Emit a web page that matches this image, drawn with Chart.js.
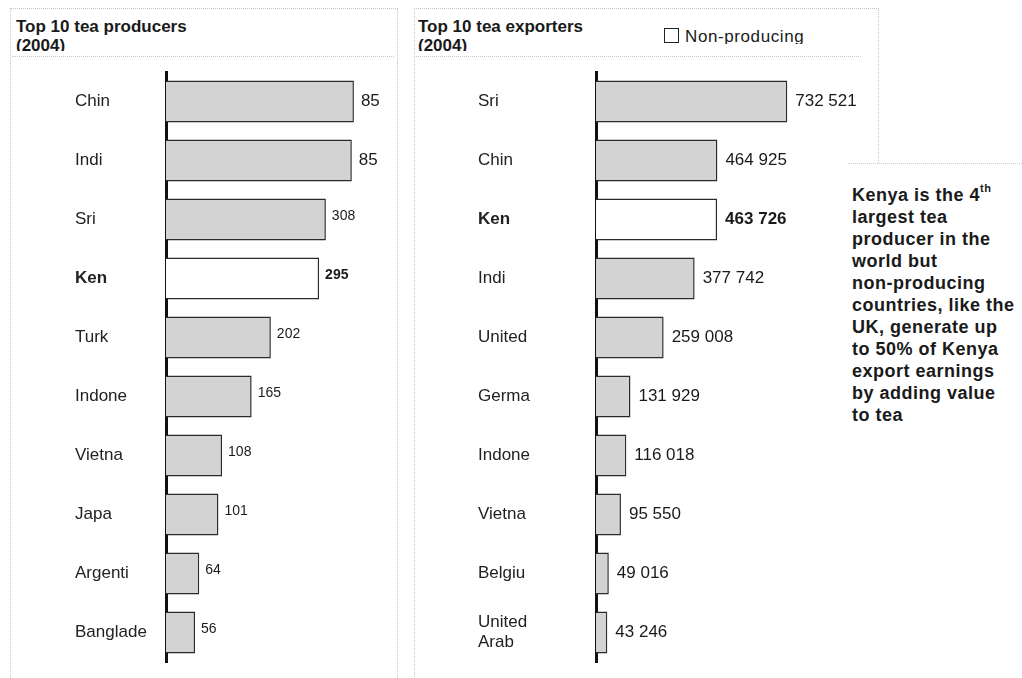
<!DOCTYPE html>
<html>
<head>
<meta charset="utf-8">
<script src="https://cdn.jsdelivr.net/npm/chart.js@4/dist/chart.umd.min.js"></script>
<style>
  html, body { margin:0; padding:0; background:#fff; width:1022px; height:678px; overflow:hidden;
    font-family:"Liberation Sans", Arial, sans-serif; color:#222; }
  .panel { position:absolute; border:1px dotted #c4c4c4; }
  .hdr { position:absolute; overflow:hidden; font-weight:bold; font-size:17px; line-height:19px; color:#1a1a1a; }
  .sep { position:absolute; height:0; border-top:1px dotted #c8c8c8; }
  .cv { position:absolute; }
  #note { position:absolute; left:848px; top:163px; width:174px; height:515px; background:#fff;
    border-top:1px dotted #cfcfcf; }
  #noteText { position:absolute; left:852px; top:184px; white-space:nowrap; font-weight:bold; font-size:18px;
    letter-spacing:0.5px; line-height:22px; color:#1a1a1a; }
  #noteText sup { font-size:11px; line-height:0; position:relative; top:-2px; }
  .leg { position:absolute; left:664px; top:27px; height:17px; overflow:hidden; font-size:17px; letter-spacing:0.6px; line-height:19px; color:#1a1a1a; }
  .leg .box { display:inline-block; width:13px; height:13px; border:1.5px solid #222; background:#fff; vertical-align:-1px; margin-right:6px; }
</style>
</head>
<body>
<div class="panel" style="left:10px;top:8px;width:386px;height:680px;"></div>
<div class="panel" style="left:414px;top:8px;width:463px;height:680px;border-bottom:none;"></div>
<div id="note"></div>
<div class="hdr" style="left:16px;top:17px;width:360px;height:34px;">Top 10 tea producers<br>(2004)</div>
<div class="hdr" style="left:418px;top:17px;width:240px;height:34px;">Top 10 tea exporters<br>(2004)</div>
<div class="leg"><span class="box"></span>Non-producing</div>
<div class="sep" style="left:12px;top:56px;width:382px;"></div>
<div class="sep" style="left:416px;top:56px;width:445px;"></div>
<div id="noteText">Kenya is the 4<sup>th</sup><br>largest tea<br>producer in the<br>world but<br>non-producing<br>countries, like the<br>UK, generate up<br>to 50% of Kenya<br>export earnings<br>by adding value<br>to tea</div>

<div class="cv" style="left:8px;top:62px;width:390px;height:606px;"><canvas id="c1"></canvas></div>
<div class="cv" style="left:408px;top:62px;width:460px;height:606px;"><canvas id="c2"></canvas></div>

<script>
// ---- data ----
const producerCategories = ['Chin','Indi','Sri','Ken','Turk','Indone','Vietna','Japa','Argenti','Banglade'];
const producerValues = [362, 358, 308, 295, 202, 165, 108, 101, 64, 56];
const producerValueLabels = ['85','85','308','295','202','165','108','101','64','56'];

const exporterCategories = ['Sri','Chin','Ken','Indi','United','Germa','Indone','Vietna','Belgiu',['United','Arab']];
const exporterValues = [732521, 464925, 463726, 377742, 259008, 131929, 116018, 95550, 49016, 43246];

const highlightCategory = 'Ken';

// ---- helpers ----
const FONT = '"Liberation Sans", Arial, sans-serif';
function fmtSpace(v){ return String(v).replace(/\B(?=(\d{3})+(?!\d))/g, ' '); }
function isHi(cat){ return cat === highlightCategory; }

function makeChart(id, cats, vals, labelTexts, xMax, pad, yWidth, labelStyle){
  const hiIdx = cats.findIndex(c => isHi(c));
  const valueLabelPlugin = {
    id: 'valueLabels',
    afterDatasetsDraw(chart){
      const ctx = chart.ctx;
      const meta = chart.getDatasetMeta(0);
      ctx.save();
      ctx.fillStyle = '#1a1a1a';
      ctx.textAlign = 'left';
      ctx.textBaseline = 'middle';
      meta.data.forEach((el, i) => {
        const st = labelStyle(i);
        ctx.font = (i === hiIdx ? 'bold ' : '') + st.size + 'px ' + FONT;
        ctx.fillText(labelTexts[i], el.x + st.dx, el.y + st.dy);
      });
      ctx.restore();
    }
  };
  return new Chart(document.getElementById(id), {
    type: 'bar',
    data: {
      labels: cats,
      datasets: [{
        data: vals,
        backgroundColor: cats.map(c => isHi(c) ? '#ffffff' : '#d3d3d3'),
        borderColor: '#2a2a2a',
        borderWidth: 1.5,
        borderSkipped: 'start',
        barPercentage: 0.71,
        categoryPercentage: 1
      }]
    },
    options: {
      indexAxis: 'y',
      responsive: true,
      maintainAspectRatio: false,
      animation: false,
      layout: { padding: pad },
      plugins: { legend: { display: false }, tooltip: { enabled: false } },
      scales: {
        x: { display: false, min: 0, max: xMax },
        y: {
          grid: { display: false },
          border: { display: true, color: '#111', width: 3 },
          afterFit(s){ s.width = yWidth; s.paddingTop = 0; s.paddingBottom = 0; },
          ticks: {
            crossAlign: 'far',
            padding: 0,
            color: '#222',
            font: (c) => ({ family: FONT, size: 17, lineHeight: 1.2,
              weight: (c.index === hiIdx) ? 'bold' : 'normal' })
          }
        }
      }
    },
    plugins: [valueLabelPlugin]
  });
}

makeChart('c1', producerCategories, producerValues, producerValueLabels, 420,
  { left: 67, right: 14, top: 10, bottom: 6 }, 91,
  (i) => i < 2 ? { size: 17, dx: 7, dy: 0 } : { size: 14, dx: 6, dy: -3 });

makeChart('c2', exporterCategories, exporterValues, exporterValues.map(fmtSpace), 900000,
  { left: 70, right: 37, top: 10, bottom: 6 }, 118,
  (i) => ({ size: 17, dx: 8, dy: 0 }));
</script>
</body>
</html>
